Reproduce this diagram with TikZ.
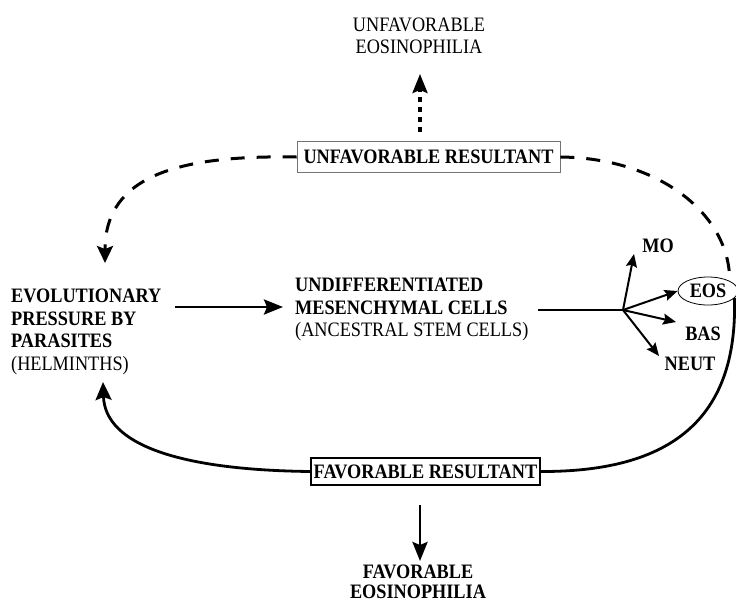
\documentclass[tikz,border=0pt]{standalone}
\usepackage{fontspec}
\setmainfont{Liberation Serif}[FakeStretch=0.89]
\usetikzlibrary{arrows.meta,shapes.geometric}
\tikzset{
	txt/.style={inner sep=0pt, font=\fontsize{20.5}{22.5}\selectfont},
	celltxt/.style={inner sep=0pt, font=\fontsize{20.5}{22}\selectfont\bfseries},
	resultant/.style={draw, font=\fontsize{20.5}{22}\selectfont\bfseries},
	bigarrow/.style={line width=2.9pt, -{Stealth[length=19pt,width=15pt,inset=3pt]}},
	cellarrow/.style={line width=2pt, -{Stealth[length=13pt,width=11pt,inset=2pt]}},
	loopdash/.style={line width=3pt, dash pattern=on 14pt off 12pt},
}
\begin{document}
\begin{tikzpicture}[x=1pt,y=-1pt]
	\useasboundingbox (0,0) rectangle (736,606);

	% texts
	\node[txt, anchor=north, align=center, font=\fontsize{20.5}{21.5}\selectfont] (unfeos) at (419,18) {UNFAVORABLE\\EOSINOPHILIA};
	\node[txt, anchor=north west, align=left] (pressure) at (11,289) {\textbf{EVOLUTIONARY}\\\textbf{PRESSURE BY}\\\textbf{PARASITES}\\(HELMINTHS)};
	\node[txt, anchor=north west, align=left] (mesen) at (295,278) {\textbf{UNDIFFERENTIATED}\\\textbf{MESENCHYMAL CELLS}\\(ANCESTRAL STEM CELLS)};
	\node[txt, anchor=north, align=center, font=\fontsize{20.5}{20}\selectfont\bfseries] (faveos) at (418,565) {FAVORABLE\\EOSINOPHILIA};

	% resultant boxes
	\node[resultant, draw=black!55, line width=.8pt, inner xsep=6.5pt, inner ysep=8.2pt] (unfres) at (428.5,157) {UNFAVORABLE RESULTANT};
	\node[resultant, line width=1.6pt, inner xsep=2.5pt, inner ysep=6.7pt] (favres) at (425.5,471.5) {FAVORABLE RESULTANT};

	% blood cells
	\node[draw, ellipse, line width=.8pt, minimum width=60pt, minimum height=28pt, inner sep=0pt, font=\fontsize{20.5}{22}\selectfont\bfseries] (eos) at (708,291) {EOS};
	\node[celltxt] (mo) at (658,246) {MO};
	\node[celltxt] (bas) at (703,334) {BAS};
	\node[celltxt] (neut) at (690,364) {NEUT};

	\coordinate (pr-out) at (175,307);
	\coordinate (mc-in) at (283,307);
	\coordinate (stem) at (538,310);
	\coordinate (branch) at (623,310);
	\coordinate (mo-tip) at (634,254);
	\coordinate (bas-tip) at (676,322);
	\coordinate (neut-tip) at (659,356);
	\coordinate (pr-top) at (105,263);
	\coordinate (pr-bot) at (103,382);
	\coordinate (up-from) at (420,132);
	\coordinate (up-to) at (420,74);
	\coordinate (down-from) at (420,505);
	\coordinate (down-to) at (420,561);

	% straight arrows
	\draw[bigarrow] (pr-out) -- (mc-in);
	\draw[line width=2.6pt] (stem) -- (branch);
	\draw[cellarrow] (branch) -- (mo-tip);
	\draw[cellarrow] (branch) -- (eos.west);
	\draw[cellarrow] (branch) -- (bas-tip);
	\draw[cellarrow] (branch) -- (neut-tip);
	\draw[bigarrow, line width=3.2pt, dash pattern=on 5pt off 5pt] (up-from) -- (up-to);
	\draw[bigarrow] (down-from) -- (down-to);

	% unfavorable loop
	\draw[loopdash, -{Stealth[length=17pt,width=16pt,inset=3pt]}] (unfres.west) .. controls (180,155) and (105,175) .. (pr-top);
	\draw[loopdash] (unfres.east) .. controls (660,158) and (730,215) .. (eos.25);

	% favorable loop
	\draw[line width=2.8pt] (eos.-15) .. controls (738,420) and (670,472) .. (favres.east);
	\draw[line width=2.8pt, -{Stealth[length=18pt,width=16pt,inset=3pt]}] (favres.west) .. controls (180,470) and (105,445) .. (pr-bot);
\end{tikzpicture}
\end{document}
